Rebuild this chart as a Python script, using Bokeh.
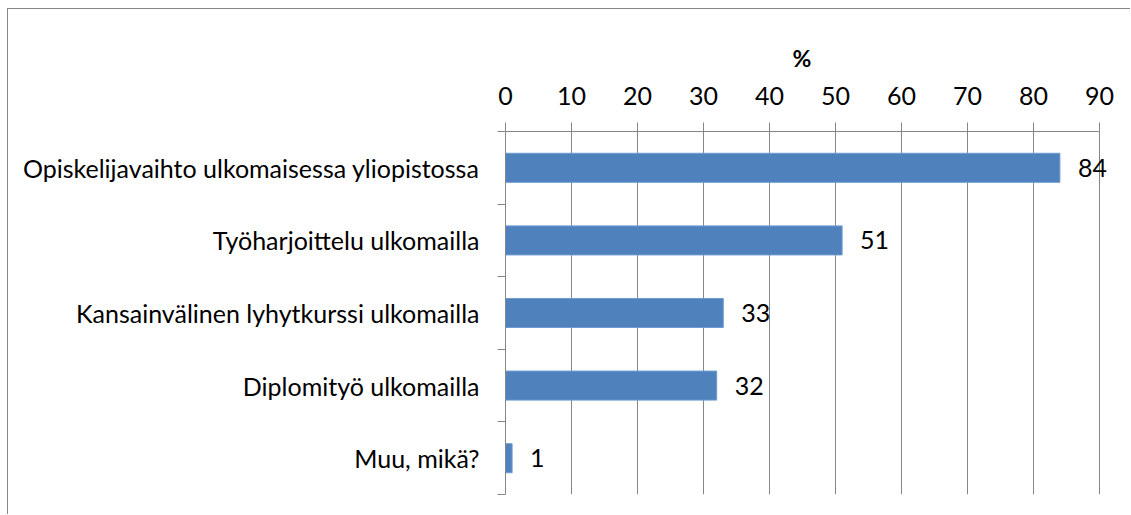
from bokeh.plotting import figure
from bokeh.models import Range1d, LinearAxis, FixedTicker, ColumnDataSource, LabelSet, Title
from bokeh.core.properties import value
from bokeh.embed import file_html
from bokeh.resources import INLINE

categories = [
    "Opiskelijavaihto ulkomaisessa yliopistossa",
    "Työharjoittelu ulkomailla",
    "Kansainvälinen lyhytkurssi ulkomailla",
    "Diplomityö ulkomailla",
    "Muu, mikä?",
]
values = [84, 51, 33, 32, 1]
x_ticks = [0, 10, 20, 30, 40, 50, 60, 70, 80, 90]
x_title = "%"

FONT = "Lato"
FS = "25px"
GRAY = "#868686"
ys = [i + 0.5 for i in range(len(categories))]

# layout: axis 0..90 spans 594 px; frame extends further right so labels are not clipped
W, LEFT, AXIS_PX = 1123, 497, 594
x_end = 90 * (W - LEFT) / AXIS_PX

src = ColumnDataSource(dict(y=ys, v=values, lab=[str(v) for v in values]))

p = figure(width=W, height=506, output_backend="svg", toolbar_location=None,
           x_range=Range1d(0, x_end), y_range=Range1d(len(categories), 0),
           x_axis_location=None, y_axis_location=None,
           min_border_left=LEFT, min_border_right=0, min_border_top=122, min_border_bottom=21)
p.styles = {"border-left": "1px solid #868686", "border-top": "1px solid #868686",
            "margin-left": "7px", "margin-top": "8px"}
p.outline_line_color = None
p.background_fill_color = "white"
p.border_fill_color = "white"

top = LinearAxis(ticker=FixedTicker(ticks=x_ticks), bounds=(0, 90))
top.axis_line_color = GRAY
top.major_tick_line_color = GRAY
top.major_tick_out = 9
top.major_tick_in = 0
top.minor_tick_line_color = None
top.major_label_text_font = FONT
top.major_label_text_font_size = FS
top.major_label_text_color = "black"
top.major_label_standoff = 18
p.add_layout(top, "above")

# axis title centred over the 0..90 span
title = Title(text=x_title, align="left", offset=AXIS_PX / 2 - 10,
              text_font=FONT, text_font_size="23px", text_font_style="bold",
              text_color="black", standoff=24)
p.add_layout(title, "above")

left = LinearAxis(ticker=FixedTicker(ticks=ys, minor_ticks=list(range(len(categories) + 1))))
left.major_label_overrides = {y: c for y, c in zip(ys, categories)}
left.axis_line_color = GRAY
left.major_tick_line_color = None
left.major_tick_out = 0
left.major_tick_in = 0
left.minor_tick_line_color = GRAY
left.minor_tick_out = 8
left.minor_tick_in = 0
left.major_label_text_font = FONT
left.major_label_text_font_size = FS
left.major_label_text_color = "black"
left.major_label_standoff = 18
p.add_layout(left, "left")

p.xgrid.ticker = FixedTicker(ticks=x_ticks)
p.xgrid.grid_line_color = GRAY
p.ygrid.grid_line_color = None

p.hbar(y="y", right="v", left=0, height=0.4, source=src,
       fill_color="#4F81BD", line_color="#6f9bd1", line_width=1)
labels = LabelSet(x="v", y="y", text="lab", source=src, x_offset=18,
                  text_baseline="middle", text_align="left",
                  text_font=value(FONT), text_font_size=value(FS), text_color="black")
p.add_layout(labels)

open("out.html", "w").write(file_html(p, INLINE))
